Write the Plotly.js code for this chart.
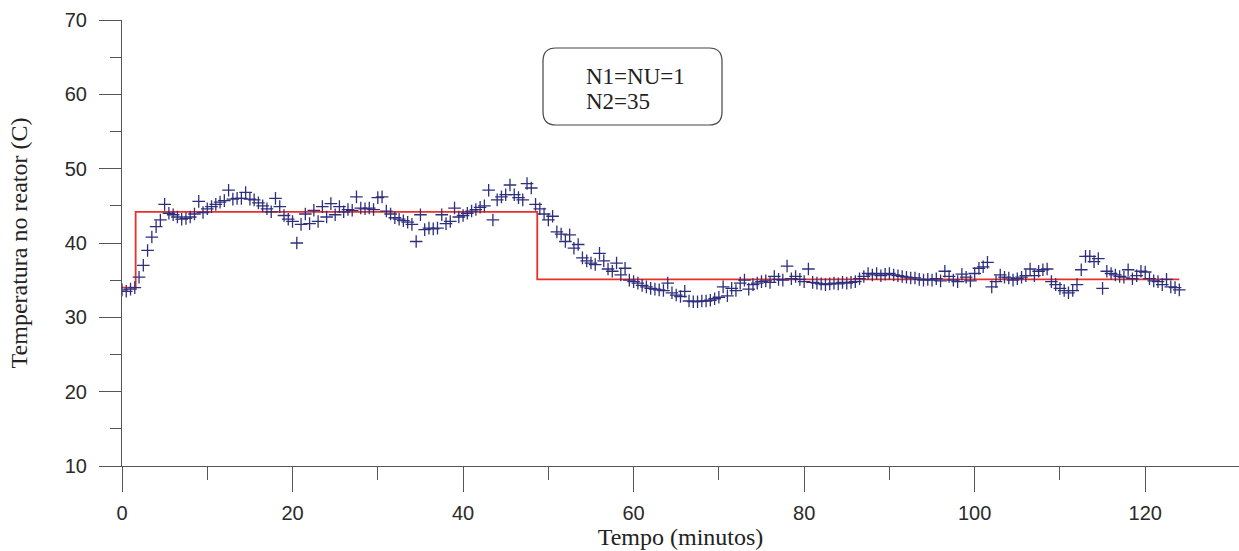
<!DOCTYPE html>
<html>
<head>
<meta charset="utf-8">
<script src="https://cdn.plot.ly/plotly-3.0.1.min.js"></script>
<style>html,body{margin:0;padding:0;background:#fff}#chart{width:1239px;height:551px}</style>
</head>
<body>
<div id="chart"></div>
<script>
// Measured reactor temperature, sampled every 0.5 min starting at t = 0
const sampleStart = 0;
const sampleStep = 0.5;
const measuredTemp = [
  33.7,33.5,33.8,34.0,35.4,37.0,39.0,40.8,42.2,43.1,
  45.2,44.0,43.8,43.5,43.2,43.3,43.5,43.9,45.6,44.1,
  44.6,44.9,45.2,45.5,45.7,47.1,45.9,46.0,46.0,46.8,
  45.9,45.8,45.4,45.0,44.6,44.2,46.0,44.9,43.7,43.2,
  42.9,40.0,42.5,43.9,42.6,44.4,42.9,44.9,43.5,45.3,
  43.8,44.9,44.2,44.5,44.4,46.2,44.7,44.6,44.7,44.5,
  46.1,46.2,44.3,43.9,43.4,43.2,43.0,42.8,42.5,40.2,
  43.8,41.8,42.0,41.9,42.0,43.8,42.6,42.9,44.7,43.5,
  43.7,44.0,44.3,44.5,44.8,45.0,47.1,43.1,45.8,46.2,
  46.5,47.8,46.5,46.1,45.8,48.0,47.4,45.2,44.6,43.9,
  43.1,43.6,41.5,41.2,40.2,41.1,39.3,39.8,38.0,37.6,
  37.3,37.1,38.6,37.6,36.5,36.2,37.3,35.7,36.6,35.0,
  34.8,34.6,34.3,34.1,33.9,33.8,33.7,33.6,34.6,33.3,
  33.0,32.8,33.5,32.2,32.1,32.1,32.2,32.2,32.3,32.5,
  32.7,34.1,32.9,33.9,33.6,34.6,35.0,33.8,34.4,34.6,
  34.8,34.9,34.7,35.5,35.1,35.0,36.9,35.2,35.5,35.1,
  34.8,36.5,34.7,34.6,34.5,34.4,34.5,34.6,34.5,34.7,
  34.6,34.7,34.8,35.2,35.5,35.9,35.7,35.9,35.6,35.8,
  35.9,35.7,35.6,35.5,35.4,35.3,35.3,35.1,35.0,35.1,
  35.0,35.2,34.9,36.2,35.5,35.0,34.8,35.8,35.4,34.9,
  35.9,36.6,36.8,37.4,34.1,34.8,35.7,35.4,35.3,35.0,
  35.2,35.4,35.6,36.5,35.6,36.2,36.4,36.5,34.8,34.4,
  33.9,33.6,33.3,33.6,34.4,36.4,38.2,38.2,37.5,37.9,
  33.9,36.2,35.9,35.7,35.5,35.4,36.4,35.2,35.6,36.2,
  36.1,35.2,34.9,34.8,34.4,35.1,34.1,34.0,33.7
];

// Setpoint (step changes)
const setpointTime  = [0, 1.6, 48.7, 124];
const setpointValue = [34.0, 44.2, 35.1, 35.1];

// Axis ticks
const xTickValues = [0, 20, 40, 60, 80, 100, 120];
const xMinorTickValues = [10, 30, 50, 70, 90, 110];
const yTickValues = [10, 20, 30, 40, 50, 60, 70];
const yMinorTickValues = [15, 25, 35, 45, 55, 65];

const boxLines = ['N1=NU=1', 'N2=35'];
const xTitle = 'Tempo (minutos)';
const yTitle = 'Temperatura no reator (C)';

// Plot geometry in pixels (for shape placement)
const W = 1239, H = 551, ML = 122, MR = 0, MT = 20, MB = 85;
const PW = W - ML - MR, PH = H - MT - MB;
const px = x => (x - ML) / PW;
const py = y => (H - MB - y) / PH;

function roundedRect(x0, y0, x1, y1, r) {
  const rx = r / PW, ry = r / PH;
  const L = px(x0), R = px(x1), T = py(y0), B = py(y1);
  return `M${L + rx},${T} L${R - rx},${T} Q${R},${T} ${R},${T - ry} ` +
         `L${R},${B + ry} Q${R},${B} ${R - rx},${B} ` +
         `L${L + rx},${B} Q${L},${B} ${L},${B + ry} ` +
         `L${L},${T - ry} Q${L},${T} ${L + rx},${T} Z`;
}

const navy = '#2e2f7c';
const serif = 'Liberation Serif, Times New Roman, serif';
const traces = [
  {
    type: 'scatter', mode: 'lines',
    x: setpointTime, y: setpointValue,
    line: {color: '#e8302a', width: 1.8, shape: 'hv'},
    hoverinfo: 'skip'
  },
  {
    type: 'scatter', mode: 'markers',
    x0: sampleStart, dx: sampleStep, y: measuredTemp,
    marker: {symbol: 'cross-thin', size: 9, color: navy, line: {color: navy, width: 1.3}}
  }
];

const axisCommon = {
  showgrid: false, zeroline: false, showline: true,
  linecolor: '#555', linewidth: 1,
  ticks: 'outside', tickcolor: '#555', tickwidth: 1,
  tickfont: {family: 'Liberation Sans, Arial, sans-serif', size: 20, color: '#2a2a2a'}
};

const layout = {
  width: W, height: H,
  margin: {l: ML, r: MR, t: MT, b: MB},
  paper_bgcolor: '#fff', plot_bgcolor: '#fff',
  showlegend: false,
  xaxis: Object.assign({}, axisCommon, {
    range: [0, 131], tickvals: xTickValues, ticktext: xTickValues.map(String),
    ticklen: 25, ticklabelstandoff: 4,
    minor: {tickvals: xMinorTickValues, ticklen: 13, tickcolor: '#555', ticks: 'outside', showgrid: false},
    title: {text: xTitle, font: {family: serif, size: 24, color: '#222'}, standoff: 2}
  }),
  yaxis: Object.assign({}, axisCommon, {
    range: [10, 70], tickvals: yTickValues, ticktext: yTickValues.map(String),
    ticklen: 22, ticklabelstandoff: 8,
    minor: {tickvals: yMinorTickValues, ticklen: 11, tickcolor: '#555', ticks: 'outside', showgrid: false},
    title: {text: yTitle, font: {family: serif, size: 24, color: '#222'}, standoff: 30}
  }),
  shapes: [{
    type: 'path', xref: 'paper', yref: 'paper',
    path: roundedRect(543, 48, 722, 125, 13),
    line: {color: '#444', width: 1.2}, fillcolor: 'rgba(0,0,0,0)'
  }],
  annotations: boxLines.map((t, i) => ({
    xref: 'paper', yref: 'paper', x: px(584), y: py(76 + 26 * i),
    xanchor: 'left', yanchor: 'middle', align: 'left', showarrow: false,
    text: t,
    font: {family: serif, size: 23, color: '#222'}
  }))
};

Plotly.newPlot('chart', traces, layout, {displayModeBar: false, staticPlot: true});
</script>
</body>
</html>
